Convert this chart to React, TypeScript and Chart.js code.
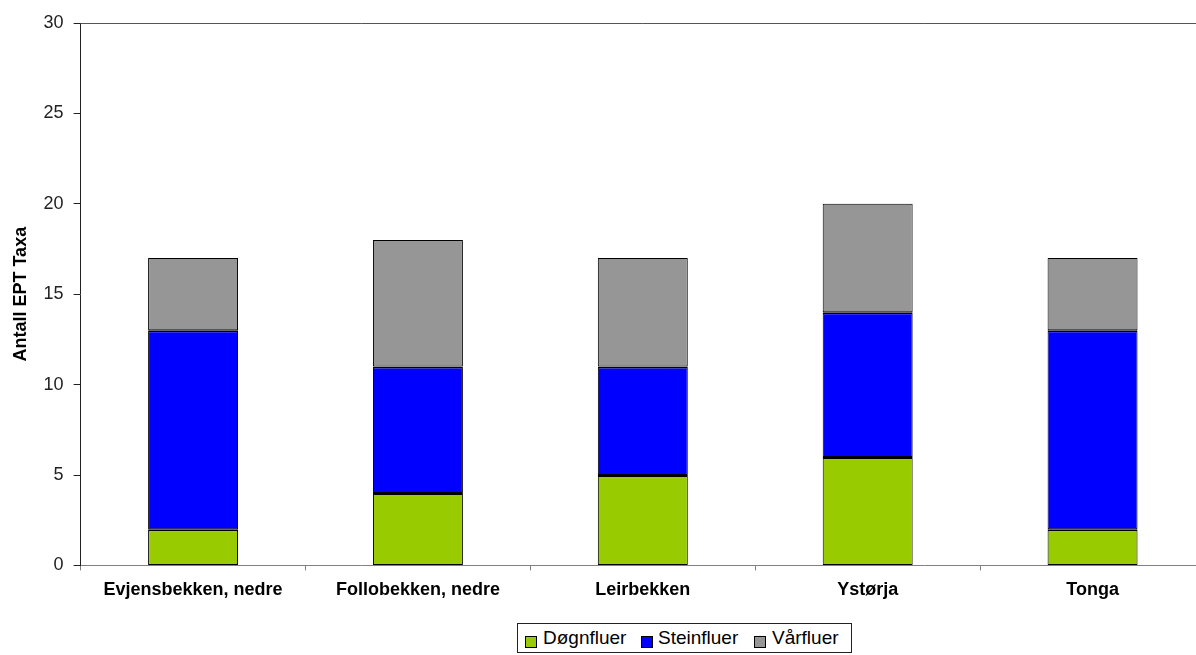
import React, { useEffect, useRef } from "react";
import { Chart, registerables } from "chart.js";

Chart.register(...registerables);

const categories = ["Evjensbekken, nedre", "Follobekken, nedre", "Leirbekken", "Ystørja", "Tonga"];
const dognfluer = [2, 4, 5, 6, 2];
const steinfluer = [11, 7, 6, 8, 11];
const varfluer = [4, 7, 6, 6, 4];
const seriesNames = ["Døgnfluer", "Steinfluer", "Vårfluer"];
const seriesColors = ["#99CC00", "#0000FF", "#969696"];
const seriesTopBorder = [2, 2, 1];

const FONT = "'Liberation Sans', Arial, sans-serif";

const topBorder = {
  id: "topBorder",
  afterDraw(chart: any) {
    const { ctx, chartArea } = chart;
    ctx.save();
    ctx.strokeStyle = "#555555";
    ctx.lineWidth = 1;
    ctx.beginPath();
    ctx.moveTo(chartArea.left, chartArea.top + 0.5);
    ctx.lineTo(chartArea.right, chartArea.top + 0.5);
    ctx.stroke();
    ctx.restore();
  },
};

export default function App() {
  const ref = useRef<HTMLCanvasElement | null>(null);

  useEffect(() => {
    if (!ref.current) return;
    const data = [dognfluer, steinfluer, varfluer];
    const chart = new Chart(ref.current, {
      type: "bar",
      data: {
        labels: categories,
        datasets: data.map((d, i) => ({
          label: seriesNames[i],
          data: d,
          backgroundColor: seriesColors[i],
          borderColor: "#000000",
          borderWidth: { top: seriesTopBorder[i], right: 1, bottom: 1, left: 1 },
          borderSkipped: false,
          categoryPercentage: 0.4,
          barPercentage: 1,
        })),
      },
      plugins: [topBorder],
      options: {
        responsive: false,
        animation: false,
        maintainAspectRatio: false,
        layout: { padding: { left: 0, top: 23, right: 5, bottom: 0 } },
        plugins: {
          legend: { display: false },
          tooltip: { enabled: false },
        },
        scales: {
          x: {
            stacked: true,
            grid: {
              drawOnChartArea: false,
              drawTicks: true,
              tickLength: 5,
              tickColor: "#808080",
            },
            border: { color: "#808080", width: 1 },
            ticks: {
              padding: 9,
              color: "#000000",
              maxRotation: 0,
              autoSkip: false,
              font: { family: FONT, size: 18, weight: "bold" },
            },
          },
          y: {
            stacked: true,
            min: 0,
            max: 30,
            grid: {
              drawOnChartArea: false,
              drawTicks: true,
              tickLength: 7,
              tickColor: "#222222",
            },
            border: { color: "#222222", width: 1 },
            ticks: {
              stepSize: 5,
              padding: 10,
              color: "#222222",
              font: { family: FONT, size: 18 },
            },
            title: {
              display: true,
              text: "Antall EPT Taxa",
              color: "#000000",
              padding: { top: 10, bottom: 2 },
              font: { family: FONT, size: 18, weight: "bold" },
            },
          },
        },
      },
    });
    return () => chart.destroy();
  }, []);

  const legendItems = [
    { sq: 525, tx: 543 },
    { sq: 641, tx: 658 },
    { sq: 754, tx: 772 },
  ];

  return (
    <div
      style={{
        position: "fixed",
        left: 0,
        top: 0,
        width: 1196,
        height: 655,
        overflow: "hidden",
        background: "#ffffff",
      }}
    >
      <canvas ref={ref} width={1210} height={610} style={{ position: "absolute", left: 0, top: 0, width: 1210, height: 610 }} />
      <div
        style={{
          position: "absolute",
          left: 517,
          top: 623,
          width: 333,
          height: 28,
          border: "1px solid #222",
          fontFamily: FONT,
          fontSize: 19,
          color: "#000",
        }}
      >
        {seriesNames.map((n, i) => (
          <React.Fragment key={n}>
            <div
              style={{
                position: "absolute",
                left: legendItems[i].sq - 518,
                top: 12,
                width: 10,
                height: 10,
                background: seriesColors[i],
                border: "1px solid #000",
              }}
            />
            <div
              style={{
                position: "absolute",
                left: legendItems[i].tx - 518,
                top: 3,
                lineHeight: "22px",
                whiteSpace: "nowrap",
              }}
            >
              {n}
            </div>
          </React.Fragment>
        ))}
      </div>
    </div>
  );
}
